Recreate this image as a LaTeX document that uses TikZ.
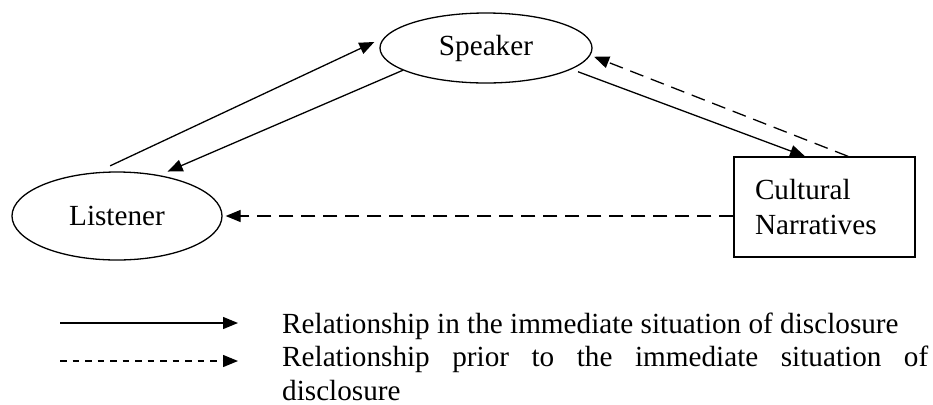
\documentclass[tikz,border=0pt]{standalone}
\usepackage{fontspec}
\setmainfont{Liberation Serif}
\usetikzlibrary{arrows.meta,shapes.geometric}
\begin{document}
\begin{tikzpicture}[x=1bp,y=-1bp,
  every node/.style={font=\fontsize{29.2bp}{34.5bp}\selectfont},
  ell/.style={ellipse,draw,line width=1.3bp,inner sep=0pt},
  rel/.style={line width=1.3bp,-{Triangle[length=15bp,width=12bp]}},
  prior/.style={rel,dash pattern=on 14bp off 8bp},
  legdash/.style={rel,dash pattern=on 6.5bp off 6bp},
  legtext/.style={anchor=base west,inner sep=0pt}]
\useasboundingbox (0,0) rectangle (933,404);
\node[ell,minimum width=212bp,minimum height=70bp] (spk) at (486,48) {Speaker};
\node[ell,minimum width=210bp,minimum height=88bp] (lis) at (117,216) {Listener};
\node[draw,line width=1.3bp,rectangle,minimum width=181bp,minimum height=100bp,
      text width=139bp,inner xsep=21bp,align=left] (cn) at (824.5,207) {Cultural\\Narratives};
\draw[rel,shorten <=15bp,shorten >=11bp] (lis.115) -- (spk.174);
\draw[rel,shorten >=9bp] (spk.195) -- (lis.44);
\draw[rel,shorten <=7bp] (spk.346) -- (cn.111);
\draw[prior,shorten >=4bp] (cn.65) -- (spk.356);
\draw[prior,shorten >=3bp] (cn.west |- lis.east) -- (lis.east);
\coordinate (s1) at (60,323); \coordinate (e1) at (238,323);
\coordinate (s2) at (60,361); \coordinate (e2) at (238,361);
\draw[rel] (s1) -- (e1);
\draw[legdash] (s2) -- (e2);
\node[legtext] (t1) at (282,333) {Relationship in the immediate situation of disclosure};
\node[legtext] (t2) at (282,366.5) {\makebox[646bp][s]{Relationship prior to the immediate situation of}};
\node[legtext] (t3) at (282,400.5) {disclosure};
\end{tikzpicture}
\end{document}
